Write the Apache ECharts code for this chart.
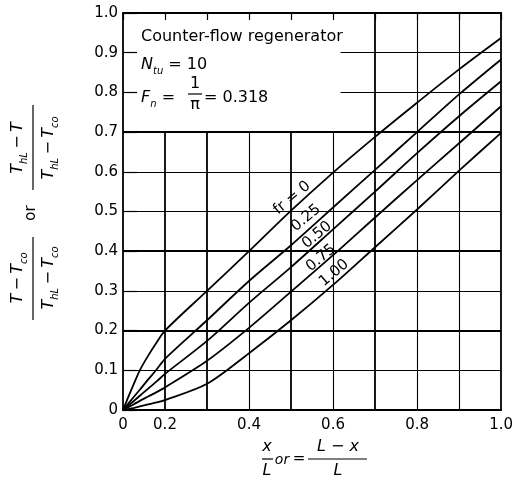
<!DOCTYPE html>
<html><head><meta charset="utf-8">
<script src="https://cdn.jsdelivr.net/npm/echarts@6/dist/echarts.min.js"></script>
<style>html,body{margin:0;padding:0;background:#fff;overflow:hidden}#c{width:516px;height:488px}</style>
</head><body><div id="c"></div>
<script>
// ---- data (x = x/L, y = dimensionless temperature) ----
const xPoints = [0, 0.02, 0.05, 0.08, 0.12, 0.16, 0.2, 0.3, 0.4, 0.5, 0.6, 0.7, 0.8, 0.9, 1.0];
const frNames = ['fr = 0', '0.25', '0.50', '0.75', '1.00'];
const fr000 = [0, 0.026, 0.064, 0.100, 0.137, 0.170, 0.200, 0.300, 0.400, 0.502, 0.598, 0.688, 0.774, 0.858, 0.937];
const fr025 = [0, 0.013, 0.032, 0.051, 0.077, 0.102, 0.129, 0.226, 0.325, 0.415, 0.510, 0.605, 0.700, 0.795, 0.883];
const fr050 = [0, 0.009, 0.022, 0.036, 0.054, 0.072, 0.091, 0.174, 0.270, 0.360, 0.455, 0.550, 0.647, 0.740, 0.828];
const fr075 = [0, 0.006, 0.014, 0.023, 0.034, 0.045, 0.057, 0.124, 0.207, 0.298, 0.390, 0.485, 0.579, 0.672, 0.765];
const fr100 = [0, 0.002, 0.005, 0.009, 0.014, 0.019, 0.025, 0.066, 0.143, 0.226, 0.315, 0.410, 0.505, 0.603, 0.698];
const xTickLabels = ['0', '0.2', '0.4', '0.6', '0.8', '1.0'];
const yTickLabels = ['0', '0.1', '0.2', '0.3', '0.4', '0.5', '0.6', '0.7', '0.8', '0.9', '1.0'];

// the original axis compresses 0..0.2 into the first 0.1 cell
function toAxis(x) { return x < 0.2 ? 0.1 + x / 2 : x; }

const FONT = 'DejaVu Sans';
const allY = [fr000, fr025, fr050, fr075, fr100];

const gridLines = [];
for (let k = 2; k <= 9; k++) {
  const v = k / 10;
  gridLines.push({coords: [[v, 0], [v, k <= 6 ? 0.7 : 1.0]], lineStyle: {width: [2,3,5,7].includes(k) ? 1.8 : 1.1}});
}
for (let k = 1; k <= 9; k++) {
  const h = k / 10;
  gridLines.push({coords: [[k >= 8 ? 0.618 : 0.1, h], [1.0, h]], lineStyle: {width: [2,4,7].includes(k) ? 1.8 : 1.1}});
}

const series = [{
  type: 'lines', coordinateSystem: 'cartesian2d', polyline: false, silent: true, z: 1,
  lineStyle: {color: '#000', width: 1.2, opacity: 1}, data: gridLines
}];
allY.forEach((ys, i) => {
  series.push({
    type: 'line', name: frNames[i], symbol: 'none', smooth: 0.3, z: 3,
    lineStyle: {color: '#000', width: 1.8},
    data: xPoints.map((x, j) => [toAxis(x), ys[j]])
  });
});

const tickFont = {color: '#000', fontSize: 15, fontFamily: FONT};
function xFmt(v) {
  const r = Math.round(v * 10);
  if (r === 1) return xTickLabels[0];
  if (r % 2 === 0) return xTickLabels[r / 2];
  return '';
}
const richT = {
  t: {fontFamily: FONT, fontStyle: 'italic', fontSize: 16, lineHeight: 22, verticalAlign: 'middle', color: '#000'},
  s: {fontFamily: FONT, fontStyle: 'italic', fontSize: 10, lineHeight: 12, verticalAlign: 'bottom', color: '#000'},
  r: {fontFamily: FONT, fontSize: 16, lineHeight: 22, verticalAlign: 'middle', color: '#000'}
};
function rtext(x, y, text, align) {
  return {type: 'text', x: x, y: y, style: {text: text, rich: richT, align: align || 'center', verticalAlign: 'middle', fill: '#000'}};
}
function hline(x1, x2, y, w) {
  return {type: 'line', shape: {x1: x1, y1: y, x2: x2, y2: y}, style: {stroke: '#000', lineWidth: w || 1.2}};
}
function plain(x, y, text, opts) {
  return {type: 'text', x: x, y: y, style: Object.assign({text: text, fill: '#000', font: '16px "' + FONT + '"', align: 'center', verticalAlign: 'middle'}, opts || {})};
}

// curve labels
const labelPos = [[292, 198], [306, 218], [317, 235], [321, 258], [334, 273]];
const curveLabels = frNames.map((n, i) => ({
  type: 'text', x: labelPos[i][0], y: labelPos[i][1], rotation: 40 * Math.PI / 180, z: 10,
  style: {text: n, fill: '#000', font: '15px "' + FONT + '"', align: 'center', verticalAlign: 'middle'}
}));

const yTitle = {
  type: 'group', x: 33, y: 213, rotation: Math.PI / 2,
  children: [
    rtext(-65, -15, '{t|T} {r|−} {t|T}{s|co}'),
    {type: 'line', shape: {x1: -107, y1: 0, x2: -24, y2: 0}, style: {stroke: '#000', lineWidth: 1.2}},
    rtext(-65, 16, '{t|T}{s|hL} {r|−} {t|T}{s|co}'),
    plain(0, -2, 'or', {font: '15px "' + FONT + '"'}),
    rtext(65, -15, '{t|T}{s|hL} {r|−} {t|T}'),
    {type: 'line', shape: {x1: 23, y1: 0, x2: 108, y2: 0}, style: {stroke: '#000', lineWidth: 1.2}},
    rtext(65, 16, '{t|T}{s|hL} {r|−} {t|T}{s|co}')
  ]
};

const xTitle = [
  plain(267, 447, 'x', {font: 'italic 16px "' + FONT + '"'}),
  hline(262, 273, 459),
  plain(267, 471, 'L', {font: 'italic 16px "' + FONT + '"'}),
  plain(282, 460, 'or', {font: 'italic 14px "' + FONT + '"'}),
  plain(299, 459, '=', {font: '15px "' + FONT + '"'}),
  plain(338, 447, 'L − x', {font: 'italic 16px "' + FONT + '"'}),
  hline(308, 367, 459),
  plain(338, 471, 'L', {font: 'italic 16px "' + FONT + '"'})
];

const annot = [
  plain(141, 37, 'Counter-flow regenerator', {align: 'left'}),
  rtext(141, 65, '{t|N}{s|tu}{r| = 10}', 'left'),
  rtext(141, 98, '{t|F}{s|n}{r| =}', 'left'),
  plain(195, 84, '1'),
  hline(188, 202, 94),
  plain(195, 105, 'π'),
  plain(204, 98, '= 0.318', {align: 'left'})
];

const chart = echarts.init(document.getElementById('c'), null, {renderer: 'canvas'});
chart.setOption({
  backgroundColor: '#fff',
  animation: false,
  grid: {left: 123, right: 10, top: 13, bottom: 78, containLabel: false},
  xAxis: [{
    type: 'value', min: 0.1, max: 1.0, interval: 0.1,
    axisLine: {onZero: false, lineStyle: {color: '#000', width: 1.8}},
    axisTick: {show: false}, splitLine: {show: false},
    axisLabel: Object.assign({formatter: xFmt, margin: 8, showMinLabel: true, showMaxLabel: true}, tickFont)
  }, {
    type: 'value', position: 'top', min: 0.1, max: 1.0, interval: 0.1,
    axisLine: {onZero: false, lineStyle: {color: '#000', width: 1.8}},
    axisTick: {inside: true, length: 7, lineStyle: {color: '#000', width: 1.2}},
    axisLabel: {show: false}, splitLine: {show: false}
  }],
  yAxis: [{
    type: 'value', min: 0, max: 1, interval: 0.1,
    axisLine: {onZero: false, lineStyle: {color: '#000', width: 1.8}},
    axisTick: {inside: true, length: 14, lineStyle: {color: '#000', width: 1.2}},
    splitLine: {show: false},
    axisLabel: Object.assign({formatter: v => yTickLabels[Math.round(v * 10)], margin: 5}, tickFont)
  }, {
    type: 'value', position: 'right', min: 0, max: 1, interval: 0.1,
    axisLine: {onZero: false, lineStyle: {color: '#000', width: 1.8}},
    axisTick: {show: false}, axisLabel: {show: false}, splitLine: {show: false}
  }],
  series: series,
  graphic: [].concat([yTitle], xTitle, annot, curveLabels)
});
</script></body></html>
